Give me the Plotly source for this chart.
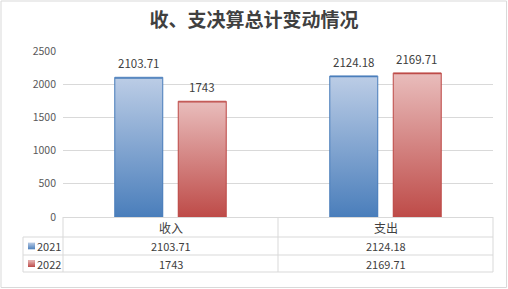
import base64
import plotly.graph_objects as go

# ---------------- data ----------------
categories = ["收入", "支出"]
series_names = ["2021", "2022"]
values_2021 = [2103.71, 2124.18]
values_2022 = [1743, 2169.71]
labels_2021 = ["2103.71", "2124.18"]
labels_2022 = ["1743", "2169.71"]
y_ticks = [0, 500, 1000, 1500, 2000, 2500]
title_text = "收、支决算总计变动情况"

# ---------------- geometry / style ----------------
W, H = 508, 289
L, R, T, B = 63, 15, 51, 72
PW = W - L - R
PH = H - T - B
FONT = "Noto Sans CJK SC"
GRID = "#d9d9d9"
TXT = "#404040"

BARGAP = 0.41
GROUPGAP = 0.244
slot = (1 - BARGAP) / 2
bar_w = slot * (1 - GROUPGAP)
offsets = [-slot / 2, slot / 2]

styles = [
    dict(top="#bccde6", bottom="#4a7ebb", stroke="#4a7ebb"),
    dict(top="#e9bdbc", bottom="#be4b48", stroke="#be4b48"),
]
series_vals = [values_2021, values_2022]
series_labels = [labels_2021, labels_2022]


def px(x):
    return (x - L) / PW


def py(y):
    return (H - B - y) / PH


def grad_svg(top, bottom, stroke, sw=2):
    svg = (
        '<svg xmlns="http://www.w3.org/2000/svg" width="100" height="100" '
        'viewBox="0 0 100 100" preserveAspectRatio="none">'
        '<defs><linearGradient id="g" x1="0" y1="0" x2="0" y2="1">'
        f'<stop offset="0" stop-color="{top}"/><stop offset="1" stop-color="{bottom}"/>'
        '</linearGradient></defs>'
        f'<rect x="0" y="0" width="100" height="100" fill="url(#g)" stroke="{stroke}" '
        f'stroke-width="{sw}" vector-effect="non-scaling-stroke"/></svg>'
    )
    return "data:image/svg+xml;base64," + base64.b64encode(svg.encode()).decode()


fig = go.Figure()
for name, vals, st in zip(series_names, series_vals, styles):
    fig.add_trace(go.Bar(
        name=name, x=categories, y=vals,
        marker=dict(color=st["bottom"], line=dict(color=st["stroke"], width=1)),
        hovertemplate="%{x} " + name + ": %{y}<extra></extra>",
    ))

images = []
annotations = []
shapes = []

# gradient overlays for bars + value labels
for s, (vals, labs, st) in enumerate(zip(series_vals, series_labels, styles)):
    src = grad_svg(st["top"], st["bottom"], st["stroke"])
    for i, (v, lab) in enumerate(zip(vals, labs)):
        cx = i + offsets[s]
        images.append(dict(
            source=src, xref="x", yref="y", x=cx - bar_w / 2, y=v,
            sizex=bar_w, sizey=v, xanchor="left", yanchor="top",
            sizing="stretch", layer="above",
        ))
        annotations.append(dict(
            x=cx, y=v, xref="x", yref="y", text=lab, showarrow=False,
            xanchor="center", yanchor="middle",
            yshift=14, font=dict(family=FONT, size=11.5, color=TXT),
        ))

# ---------------- data table ----------------
row_y = [217, 237, 255, 272]
col_x = [23, 63, 278, 493]
line = dict(color=GRID, width=1)
for y in row_y[1:]:
    shapes.append(dict(type="line", xref="paper", yref="paper",
                       x0=px(col_x[0]), x1=px(col_x[-1]), y0=py(y), y1=py(y), line=line))
shapes.append(dict(type="line", xref="paper", yref="paper",
                   x0=px(col_x[0]), x1=px(col_x[0]), y0=py(row_y[1]), y1=py(row_y[-1]), line=line))
for x in col_x[1:]:
    shapes.append(dict(type="line", xref="paper", yref="paper",
                       x0=px(x), x1=px(x), y0=py(row_y[0]), y1=py(row_y[-1]), line=line))

for i, c in enumerate(categories):
    annotations.append(dict(x=i, xref="x", y=py((row_y[0] + row_y[1]) / 2), yref="paper",
                            text=c, showarrow=False, xanchor="center", yanchor="middle",
                            font=dict(family=FONT, size=12, color=TXT)))
for s, labs in enumerate(series_labels):
    yc = (row_y[s + 1] + row_y[s + 2]) / 2
    for i, lab in enumerate(labs):
        annotations.append(dict(x=i, xref="x", y=py(yc), yref="paper", text=lab,
                                showarrow=False, xanchor="center", yanchor="middle",
                                font=dict(family=FONT, size=11, color=TXT)))
    # legend key
    images.append(dict(
        source=grad_svg(styles[s]["top"], styles[s]["bottom"], styles[s]["stroke"]),
        xref="paper", yref="paper", x=px(28), y=py(yc - 3.5), sizex=7 / PW, sizey=7 / PH,
        xanchor="left", yanchor="top", sizing="stretch", layer="above",
    ))
    annotations.append(dict(x=px(34.5), xref="paper", y=py(yc), yref="paper",
                            text=series_names[s], showarrow=False,
                            xanchor="left", yanchor="middle",
                            font=dict(family=FONT, size=11, color=TXT)))

# outer border
shapes.append(dict(type="rect", xref="paper", yref="paper",
                   x0=px(1), x1=px(506.5), y0=py(1), y1=py(287.5),
                   line=dict(color=GRID, width=1)))

fig.update_layout(
    width=W, height=H,
    margin=dict(l=L, r=R, t=T, b=B),
    paper_bgcolor="white", plot_bgcolor="white",
    barmode="group", bargap=BARGAP, bargroupgap=GROUPGAP,
    showlegend=False,
    title=dict(text="<b>" + title_text + "</b>", x=0.5, xanchor="center",
               y=1 - 20 / H, yanchor="middle",
               font=dict(family=FONT, size=19, color=TXT)),
    xaxis=dict(showticklabels=False, showline=True, linecolor=GRID, linewidth=1,
               showgrid=False, ticks="", fixedrange=True),
    yaxis=dict(range=[0, 2500], tickvals=y_ticks, showline=False, gridcolor=GRID,
               gridwidth=1, zeroline=False, ticks="", ticklabelstandoff=6,
               tickfont=dict(family=FONT, size=10.5, color="#595959"), fixedrange=True),
    images=images, annotations=annotations, shapes=shapes,
)

fig.write_html("out.html")
